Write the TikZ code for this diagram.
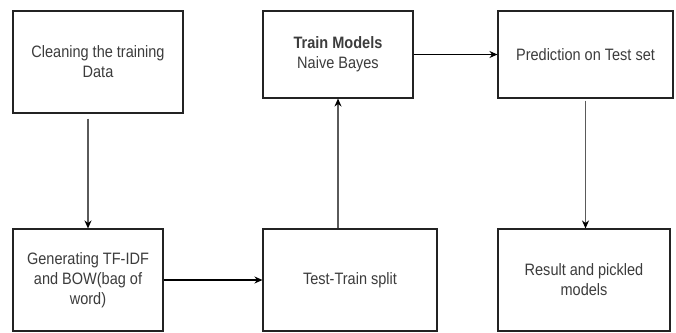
\documentclass[tikz,border=0pt]{standalone}
\usepackage{fontspec}
\setmainfont[FakeStretch=0.88]{Liberation Sans}
\usetikzlibrary{arrows.meta}
\definecolor{txt}{RGB}{60,60,60}
\definecolor{edge}{RGB}{35,35,35}
\definecolor{vline}{RGB}{90,90,90}
\tikzset{
  box/.style={draw=edge, line width=1.1pt, fill=white, inner sep=2pt, align=center,
    text=txt, font=\fontsize{16.5}{20}\selectfont},
  arr/.style={line width=1.1pt, -{Stealth[length=8pt,width=7pt,black]}},
}
\begin{document}
\begin{tikzpicture}[x=1pt,y=-1pt]
\useasboundingbox (0,0) rectangle (676,332);
\node[box, minimum width=170pt, minimum height=102pt] (clean) at (98,62)
  {Cleaning the training\\Data};
\node[box, minimum width=150pt, minimum height=87pt] (train) at (338,54.5)
  {\textbf{Train Models}\\Naive Bayes};
\node[box, minimum width=175pt, minimum height=87pt] (pred) at (585.5,54.5)
  {Prediction on Test set};
\node[box, minimum width=150pt, minimum height=102pt] (gen) at (88,280)
  {Generating TF-IDF\\and BOW(bag of\\word)};
\node[box, minimum width=174pt, minimum height=102pt] (split) at (350,280)
  {Test-Train split};
\node[box, minimum width=172pt, minimum height=102pt] (res) at (584,280)
  {Result and pickled\\models};
\draw[arr, draw=vline, shorten <=5pt] (gen.north |- clean.south) -- (gen.north);
\draw[arr, draw=vline] (train.south |- split.north) -- (train.south);
\draw[arr, draw=vline, shorten <=2pt] (pred.south) -- (pred.south |- res.north);
\draw[arr, draw=black] (train.east) -- (pred.west);
\draw[arr, draw=black] (gen.east) -- (split.west);
\end{tikzpicture}
\end{document}
